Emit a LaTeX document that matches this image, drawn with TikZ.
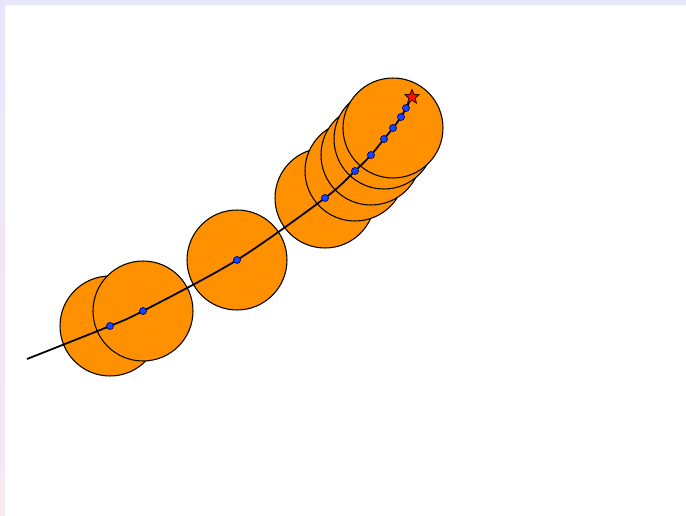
\documentclass[tikz,border=0pt]{standalone}
\usepackage{tikz}
\usetikzlibrary{shapes.geometric}
\definecolor{discfill}{RGB}{255,145,0}
\definecolor{dotblue}{RGB}{20,70,255}
\definecolor{edgelav}{RGB}{232,230,250}
\definecolor{edgepink}{RGB}{248,232,242}

\begin{document}
\begin{tikzpicture}[x=0.02cm,y=-0.02cm]
  \useasboundingbox (0,0) rectangle (686,516);
  \fill[edgelav] (0,0) rectangle (686,5);
  \shade[top color=edgelav,bottom color=edgepink] (0,0) rectangle (5,516);
  % points of the path
  \foreach \n/\p in {0/{27,359},1/{110,326},2/{143,311},3/{237,260},4/{325,198},5/{355,171},
                     6/{371,155},7/{384,139},8/{393,128},9/{401,117},10/{406,108},11/{412,97}}
    \coordinate (p\n) at (\p);
  \foreach \n in {1,...,8}
    \draw[fill=discfill,line width=0.6pt] (p\n) circle[radius=1cm];
  \draw[line width=1pt] plot[smooth,tension=0.5] coordinates {(p0) (p1) (p2) (p3) (p4) (p5) (p6) (p7) (p8) (p9) (p10) (p11)};
  \foreach \n in {1,...,10}
    \node[circle,draw=blue!40!black,fill=dotblue,inner sep=0pt,minimum size=4pt,line width=0.4pt] (d\n) at (p\n) {};
  \node[star,star points=5,star point ratio=2.2,draw,fill=red!90!orange,inner sep=0pt,minimum size=8.5pt,line width=0.4pt] (goal) at (p11) {};
\end{tikzpicture}
\end{document}
